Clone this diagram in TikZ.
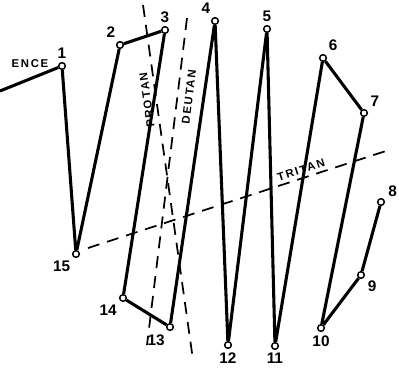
\documentclass[tikz,border=0pt]{standalone}
\usepackage{fontspec}
\setsansfont{Liberation Sans}
\newfontfamily\tagfont[LetterSpace=15]{Liberation Sans}
\begin{document}
\begin{tikzpicture}[x=0.75pt,y=-0.75pt,
  pt/.style={circle, draw, fill=white, line width=1.1pt, inner sep=0pt, minimum size=5pt},
  trace/.style={line width=2.3pt, line join=round},
  axis/.style={line width=1.3pt, dash pattern=on 9pt off 6pt},
  num/.style={font=\sffamily\bfseries\fontsize{11.5}{13}\selectfont},
  tag/.style={font=\tagfont\bfseries\fontsize{8.5}{10}\selectfont},
  every label/.style={num, label distance=-1pt}]
  \useasboundingbox (0,0) rectangle (399,375);
  \clip (0,0) rectangle (399,375);

  %% Confusion axes
  \coordinate (pa) at (143,5);   \coordinate (pb) at (193,360);
  \coordinate (da) at (187,18);  \coordinate (db) at (147,345);
  \coordinate (ta) at (88,248);  \coordinate (tb) at (392,149);
  \draw[axis] (pa) -- (pb);
  \draw[axis] (da) -- (db);
  \draw[axis] (ta) -- (tb);

  %% Axis labels
  \node[tag, rotate=98] (protan) at (147,100) {PROTAN};
  \node[tag, rotate=83] (deutan) at (189,97) {DEUTAN};
  \node[tag, rotate=18] (tritan) at (301,170) {TRITAN};
  \node[tag, anchor=west] (ref) at (7,64) {ENCE};

  %% Caps
  \node[pt, label={90:1}]  (p1)  at (62,66) {};
  \node[pt, label={95:2}]  (p2)  at (120,45) {};
  \node[pt, label={92:3}]  (p3)  at (165,30) {};
  \node[pt, label={95:4}]  (p4)  at (215,21) {};
  \node[pt, label={90:5}]  (p5)  at (267,29) {};
  \node[pt, label={65:6}]  (p6)  at (323,58) {};
  \node[pt, label={45:7}]  (p7)  at (364,113) {};
  \node[pt, label={10:8}]  (p8)  at (381,202) {};
  \node[pt, label={-35:9}] (p9)  at (361,275) {};
  \node[pt, label={-90:10}] (p10) at (321,328) {};
  \node[pt, label={-92:11}] (p11) at (275,346) {};
  \node[pt, label={-92:12}] (p12) at (228,345) {};
  \node[pt, label={-105:13}] (p13) at (170,327) {};
  \node[pt, label={-125:14}] (p14) at (123,298) {};
  \node[pt, label={-115:15}] (p15) at (76,254) {};
  \coordinate (p0) at (0,91);

  %% Arrangement
  \draw[trace] (p0) -- (p1) -- (p15) -- (p2) -- (p3) -- (p14) -- (p13)
    -- (p4) -- (p12) -- (p5) -- (p11) -- (p6) -- (p7) -- (p10) -- (p9) -- (p8);
\end{tikzpicture}
\end{document}
